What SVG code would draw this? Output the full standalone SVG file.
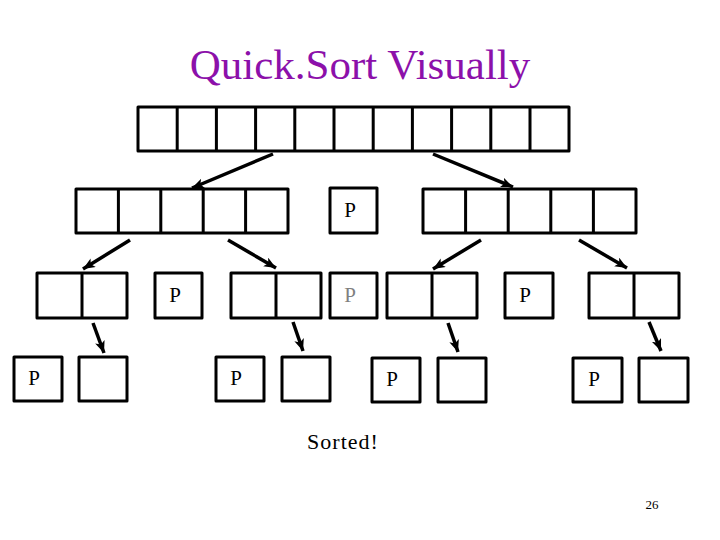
<svg xmlns="http://www.w3.org/2000/svg" width="720" height="540" viewBox="0 0 720 540">
<style>
.box{fill:#fff;stroke:#000;stroke-width:3;stroke-linejoin:round}
.div{stroke:#000;stroke-width:3}
.arr{stroke:#000;stroke-width:3.5;fill:none;marker-end:url(#ah)}
.t{font-family:"Liberation Serif","Times New Roman",serif}
.p{font-size:21px;fill:#000;text-anchor:middle}
.g{fill:#808080}
</style>
<defs>
<marker id="ah" markerUnits="userSpaceOnUse" markerWidth="14" markerHeight="12" refX="12" refY="5" orient="auto">
<path d="M0,0 L12,5 L0,10 L3,5 Z" fill="#000"/>
</marker>
</defs>
<rect width="720" height="540" fill="#fff"/>
<text class="t" x="360" y="79" font-size="43" fill="#8C10AA" text-anchor="middle">Quick.Sort Visually</text>

<g id="top-array">
<rect class="box" x="138" y="107" width="431" height="44"/>
<path class="div" d="M177.2,107V151M216.4,107V151M255.6,107V151M294.8,107V151M334,107V151M373.2,107V151M412.4,107V151M451.6,107V151M490.8,107V151M530,107V151"/>
</g>

<g id="row2-left">
<rect class="box" x="76" y="189" width="212" height="44"/>
<path class="div" d="M118.4,189V233M160.8,189V233M203.2,189V233M245.6,189V233"/>
</g>
<g id="row2-pivot">
<rect class="box" x="330" y="188" width="47" height="45"/>
<text class="t p" x="350" y="217">P</text>
</g>
<g id="row2-right">
<rect class="box" x="423" y="189" width="213" height="44"/>
<path class="div" d="M465.6,189V233M508.2,189V233M550.8,189V233M593.4,189V233"/>
</g>

<g id="row3-a">
<rect class="box" x="37" y="273" width="90" height="45"/>
<path class="div" d="M82,273V318"/>
</g>
<g id="row3-pa">
<rect class="box" x="155" y="273" width="47" height="45"/>
<text class="t p" x="175" y="302">P</text>
</g>
<g id="row3-b">
<rect class="box" x="231" y="273" width="90" height="45"/>
<path class="div" d="M276,273V318"/>
</g>
<g id="row3-pgray">
<rect class="box" x="330" y="273" width="47" height="45"/>
<text class="t p g" x="350" y="302">P</text>
</g>
<g id="row3-c">
<rect class="box" x="387" y="273" width="90" height="45"/>
<path class="div" d="M432,273V318"/>
</g>
<g id="row3-pc">
<rect class="box" x="505" y="273" width="48" height="45"/>
<text class="t p" x="525" y="302">P</text>
</g>
<g id="row3-d">
<rect class="box" x="589" y="273" width="90" height="45"/>
<path class="div" d="M634,273V318"/>
</g>

<g id="row4-p1"><rect class="box" x="14" y="357" width="48" height="44"/><text class="t p" x="34" y="385">P</text></g>
<g id="row4-b1"><rect class="box" x="79" y="357" width="48" height="44"/></g>
<g id="row4-p2"><rect class="box" x="216" y="357" width="48" height="44"/><text class="t p" x="236" y="385">P</text></g>
<g id="row4-b2"><rect class="box" x="282" y="357" width="48" height="44"/></g>
<g id="row4-p3"><rect class="box" x="372" y="358" width="48" height="44"/><text class="t p" x="392" y="386">P</text></g>
<g id="row4-b3"><rect class="box" x="438" y="358" width="48" height="44"/></g>
<g id="row4-p4"><rect class="box" x="573" y="358" width="49" height="44"/><text class="t p" x="594" y="386">P</text></g>
<g id="row4-b4"><rect class="box" x="639" y="358" width="49" height="44"/></g>

<g id="connectors">
<line class="arr" x1="273" y1="154" x2="192" y2="188"/>
<line class="arr" x1="433" y1="154" x2="513" y2="187"/>
<line class="arr" x1="130" y1="240" x2="83" y2="269"/>
<line class="arr" x1="228" y1="240" x2="276" y2="268"/>
<line class="arr" x1="481" y1="240" x2="433" y2="269"/>
<line class="arr" x1="579" y1="240" x2="627" y2="268"/>
<line class="arr" x1="93" y1="323" x2="104" y2="353"/>
<line class="arr" x1="293" y1="322" x2="303" y2="351"/>
<line class="arr" x1="448" y1="323" x2="458" y2="352"/>
<line class="arr" x1="649" y1="322" x2="661" y2="351"/>
</g>

<text class="t" x="343" y="449" font-size="22" letter-spacing="1" text-anchor="middle">Sorted!</text>
<text class="t" x="652" y="509" font-size="13" text-anchor="middle">26</text>
</svg>
